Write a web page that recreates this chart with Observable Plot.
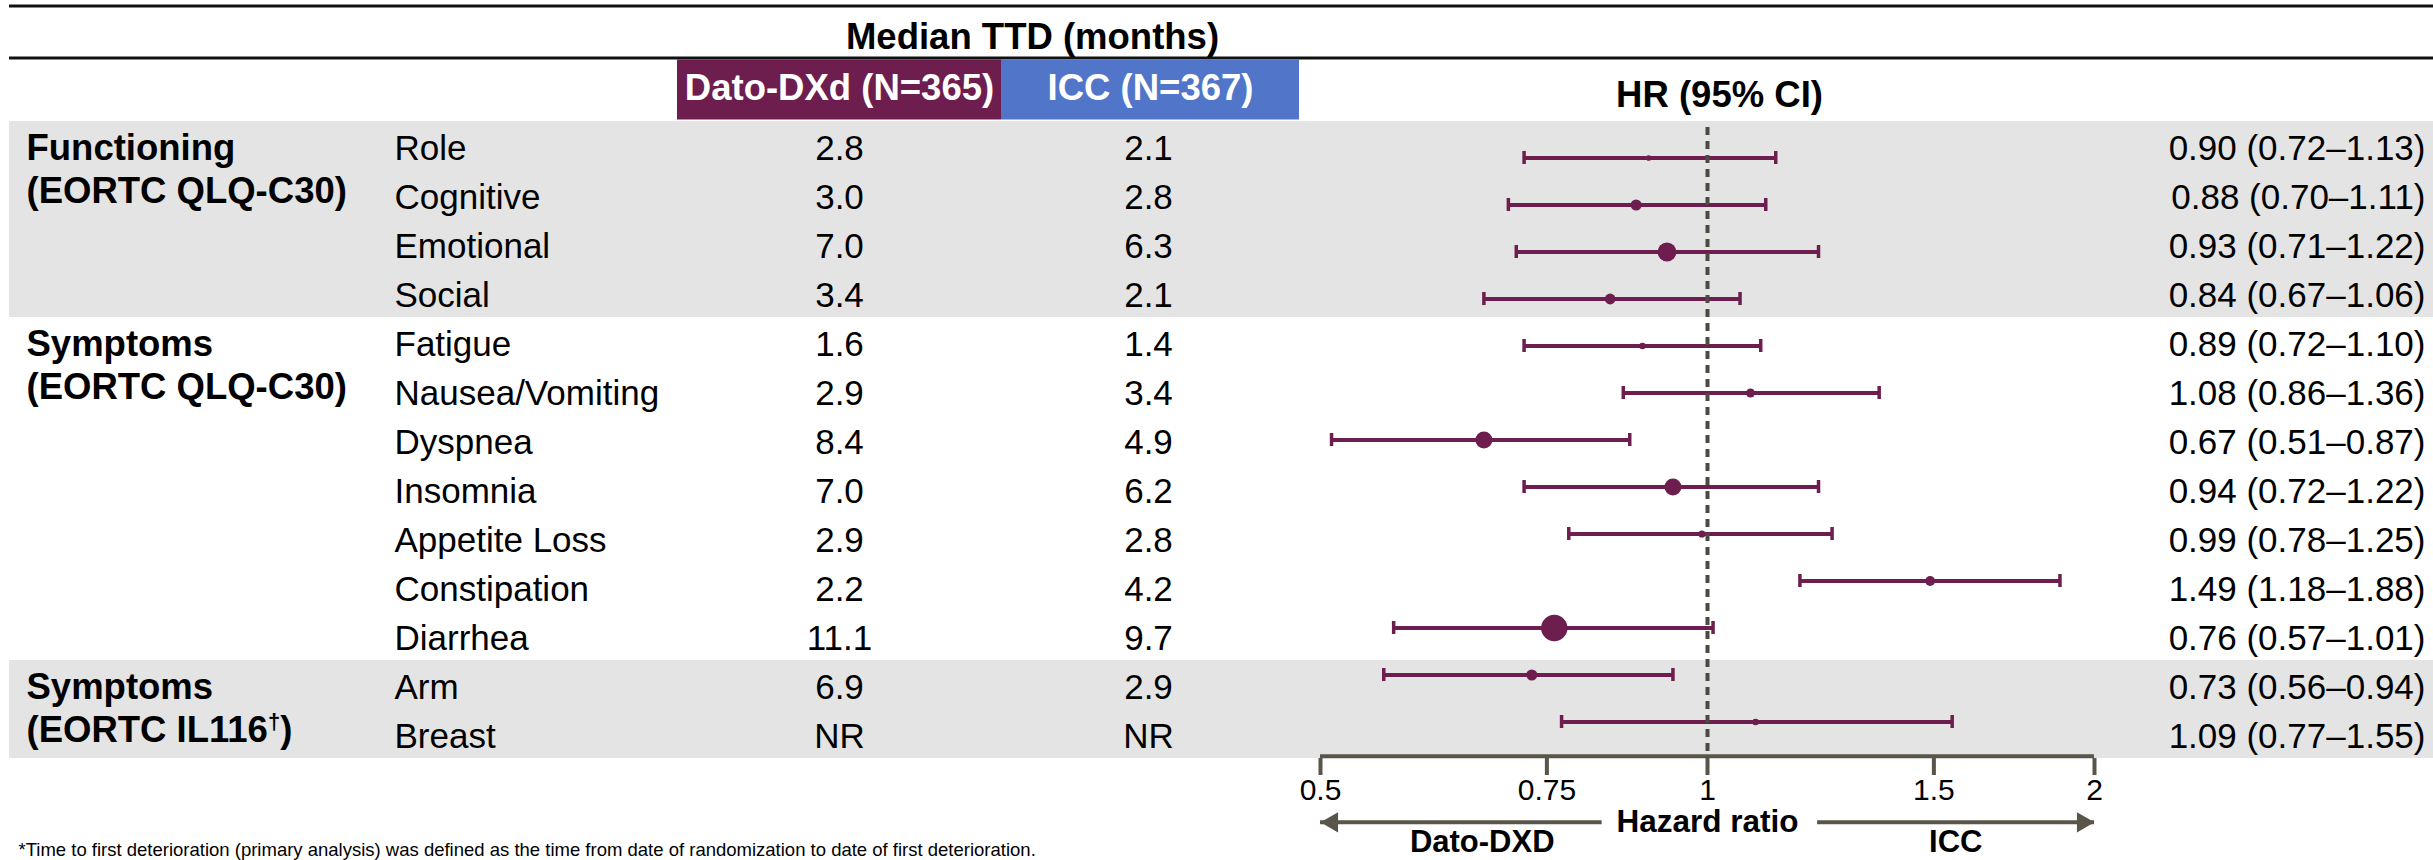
<!DOCTYPE html>
<html>
<head>
<meta charset="utf-8">
<script src="https://cdn.jsdelivr.net/npm/d3@7"></script>
<script src="https://cdn.jsdelivr.net/npm/@observablehq/plot@0.6"></script>
<style>
  html, body { margin: 0; padding: 0; background: #fff; overflow: hidden; }
  #chart { position: relative; width: 2433px; height: 860px; overflow: hidden; background: #fff;
           font-family: "Liberation Sans", Arial, sans-serif; }
  #chart svg { position: absolute; left: 0; top: 0; }
</style>
</head>
<body>
<div id="chart"></div>
<script>
// ---------------- DATA ----------------
const groupLabels = ["Functioning\n(EORTC QLQ-C30)", "Symptoms\n(EORTC QLQ-C30)", "Symptoms\n(EORTC IL116†)"];
const items = ["Role", "Cognitive", "Emotional", "Social", "Fatigue", "Nausea/Vomiting", "Dyspnea",
               "Insomnia", "Appetite Loss", "Constipation", "Diarrhea", "Arm", "Breast"];
const itemGroup = [0, 0, 0, 0, 1, 1, 1, 1, 1, 1, 1, 2, 2];
const datoMedian = ["2.8", "3.0", "7.0", "3.4", "1.6", "2.9", "8.4", "7.0", "2.9", "2.2", "11.1", "6.9", "NR"];
const iccMedian  = ["2.1", "2.8", "6.3", "2.1", "1.4", "3.4", "4.9", "6.2", "2.8", "4.2", "9.7", "2.9", "NR"];
const hrValue = [0.90, 0.88, 0.93, 0.84, 0.89, 1.08, 0.67, 0.94, 0.99, 1.49, 0.76, 0.73, 1.09];
const ciLow   = [0.72, 0.70, 0.71, 0.67, 0.72, 0.86, 0.51, 0.72, 0.78, 1.18, 0.57, 0.56, 0.77];
const ciHigh  = [1.13, 1.11, 1.22, 1.06, 1.10, 1.36, 0.87, 1.22, 1.25, 1.88, 1.01, 0.94, 1.55];
// relative marker weight (area of the point estimate marker)
const markerWeight = [8, 31, 88, 29, 11, 20, 72, 72, 13, 24, 174, 31, 11];

const tableTitle = "Median TTD (months)";
const armLabels = ["Dato-DXd (N=365)", "ICC (N=367)"];
const hrTitle = "HR (95% CI)";
const axisTicks = [0.5, 0.75, 1, 1.5, 2];
const axisTickLabels = ["0.5", "0.75", "1", "1.5", "2"];
const axisTitle = "Hazard ratio";
const directionLabels = ["Dato-DXD", "ICC"];
const footnote = "*Time to first deterioration (primary analysis) was defined as the time from date of randomization to date of first deterioration.";

// ---------------- STYLE / LAYOUT ----------------
const FONT = '"Liberation Sans", Arial, Helvetica, sans-serif';
const W = 2433, H = 860;
const PURPLE = "#6d1e4f", BLUE = "#5175c8", BAND = "#e4e4e4", AXIS = "#59554a", DASH = "#4d4a42";
const BOLD = 36.5, REG = 35;
const armColors = [PURPLE, BLUE];
const armSpans = [[677, 1001], [1001, 1299]];
const col = { bandLeft: 9, group: 26, item: 394, dato: 839, icc: 1148, hrText: 2425 };
const tableRows = { top: 122.5, step: 49.25 };
const forestRows = { first: 154.3, step: 47.45, cap: 13 };
const forestFrame = { left: 1320, right: W - 2094, top: 127, bottom: H - 758 };
// arrow directions below the axis, in hazard-ratio units
const directions = [
  { label: directionLabels[0], from: 0.828, to: 0.5, at: 0.668 },
  { label: directionLabels[1], from: 1.218, to: 2, at: 1.56 }
];

const rows = items.map((item, i) => ({
  item, group: itemGroup[i], dato: datoMedian[i], icc: iccMedian[i],
  hr: hrValue[i], lo: ciLow[i], hi: ciHigh[i], w: markerWeight[i]
}));
const groups = groupLabels.map((label, g) => ({ label, first: items[itemGroup.indexOf(g)] }));
const lastItem = items[items.length - 1];
const fmt = v => v.toFixed(2);

const chart = document.getElementById("chart");
const baseStyle = { fontFamily: FONT, background: "transparent", color: "#000", overflow: "visible" };

// ---------------- TABLE LAYER ----------------
const table = Plot.plot({
  width: W, height: H, margin: 0,
  x: { type: "identity", axis: null },
  y: { type: "band", domain: items, range: [tableRows.top, tableRows.top + items.length * tableRows.step],
       padding: 0, axis: null },
  style: baseStyle,
  marks: [
    Plot.barX(rows.filter(d => d.group % 2 === 0),
      { y: "item", x1: col.bandLeft, x2: W, fill: BAND, insetTop: -3, insetBottom: 3 }),
    Plot.text(groups, { y: "first", x: col.group, text: "label", textAnchor: "start", lineAnchor: "top",
      lineHeight: 1.18, fontWeight: "bold", fontSize: BOLD, dy: -20 }),
    Plot.text(rows, { y: "item", x: col.item, text: "item", textAnchor: "start", fontSize: REG }),
    Plot.text(rows, { y: "item", x: col.dato, text: "dato", fontSize: REG }),
    Plot.text(rows, { y: "item", x: col.icc, text: "icc", fontSize: REG }),
    Plot.text(rows, { y: "item", x: col.hrText, text: d => `${fmt(d.hr)} (${fmt(d.lo)}–${fmt(d.hi)})`,
      textAnchor: "end", fontSize: REG }),
    Plot.text([footnote], { frameAnchor: "bottom-left", dx: 18, dy: -5, textAnchor: "start",
      lineAnchor: "bottom", fontSize: 18.5 })
  ]
});
chart.appendChild(table);

// superscript dagger
table.querySelectorAll("tspan, text").forEach(el => {
  if (el.childElementCount === 0 && el.textContent.includes("†")) {
    const [before, after] = el.textContent.split("†");
    el.textContent = before;
    const ns = "http://www.w3.org/2000/svg";
    const sup = document.createElementNS(ns, "tspan");
    sup.setAttribute("dy", "-13"); sup.setAttribute("font-size", "22"); sup.textContent = "†";
    const rest = document.createElementNS(ns, "tspan");
    rest.setAttribute("dy", "13"); rest.textContent = after;
    el.appendChild(sup); el.appendChild(rest);
  }
});

// ---------------- HEADER LAYER ----------------
const arms = armLabels.map((label, i) => ({ label, color: armColors[i], x1: armSpans[i][0], x2: armSpans[i][1] }));
const header = Plot.plot({
  width: W, height: 125, margin: 0,
  x: { type: "identity", axis: null }, y: { type: "identity", axis: null }, color: { type: "identity" },
  style: baseStyle,
  marks: [
    Plot.ruleY([5.5, 57.5], { x1: col.bandLeft, x2: W, stroke: "#111", strokeWidth: 3 }),
    Plot.text([tableTitle], { x: 1032, y: 37, fontWeight: "bold", fontSize: BOLD }),
    Plot.rect(arms, { x1: "x1", x2: "x2", y1: 59.5, y2: 119.5, fill: "color" }),
    Plot.text(arms, { x: d => (d.x1 + d.x2) / 2, y: 88, text: "label", fill: "#fff", fontWeight: "bold", fontSize: BOLD }),
    Plot.text([hrTitle], { x: 1719, y: 95, fontWeight: "bold", fontSize: BOLD })
  ]
});
chart.appendChild(header);

// ---------------- FOREST LAYER ----------------
// band scale whose band centres sit on the CI rows and whose bandwidth is the cap height
const pInner = 1 - forestRows.cap / forestRows.step;
const yStart = forestRows.first - forestRows.step / 2;
const yRange = [yStart, yStart + items.length * forestRows.step];
const lastCentre = forestRows.first + (items.length - 1) * forestRows.step;
const axisDy = (H - forestFrame.bottom) - lastCentre;
const arrowDy = 824 - lastCentre;
const forest = Plot.plot({
  width: W, height: H,
  marginLeft: forestFrame.left, marginRight: forestFrame.right,
  marginTop: forestFrame.top, marginBottom: forestFrame.bottom,
  x: { type: "log", domain: [axisTicks[0], axisTicks[axisTicks.length - 1]], label: null },
  y: { type: "band", domain: items, range: yRange, paddingInner: pInner, paddingOuter: pInner / 2,
       align: 0.5, axis: null },
  r: { type: "sqrt", domain: [0, d3.max(markerWeight)], range: [0, 13.2] },
  style: baseStyle,
  marks: [
    // axis baseline
    Plot.ruleY([lastItem], { x1: axisTicks[0], x2: axisTicks[axisTicks.length - 1], dy: axisDy,
      stroke: AXIS, strokeWidth: 4 }),
    Plot.axisX({ ticks: axisTicks, tickFormat: d => axisTickLabels[axisTicks.indexOf(d)],
      tickSize: 17, tickPadding: 3, fontSize: 30, stroke: AXIS, strokeWidth: 4, fill: "#000", label: null }),
    // confidence intervals
    Plot.ruleY(rows, { y: "item", x1: "lo", x2: "hi", stroke: PURPLE, strokeWidth: 4 }),
    Plot.tickX(rows, { x: "lo", y: "item", stroke: PURPLE, strokeWidth: 3.5 }),
    Plot.tickX(rows, { x: "hi", y: "item", stroke: PURPLE, strokeWidth: 3.5 }),
    // reference line at HR = 1
    Plot.ruleX([1], { stroke: DASH, strokeWidth: 4, strokeDasharray: "8,6" }),
    // point estimates
    Plot.dot(rows, { x: "hr", y: "item", r: "w", fill: PURPLE, stroke: null }),
    // direction arrows
    Plot.ruleY(directions, { y: () => lastItem, x1: "from", x2: "to", dy: arrowDy, stroke: AXIS, strokeWidth: 4 }),
    Plot.dot(directions.slice(0, 1), { x: "to", y: () => lastItem, dy: arrowDy, dx: 11.7, symbol: "triangle",
      rotate: -90, r: 7.5, fill: AXIS, stroke: null }),
    Plot.dot(directions.slice(1), { x: "to", y: () => lastItem, dy: arrowDy, dx: -11.7, symbol: "triangle",
      rotate: 90, r: 7.5, fill: AXIS, stroke: null }),
    Plot.text([axisTitle], { x: 1, frameAnchor: "bottom", lineAnchor: "middle", dy: 63,
      fontWeight: "bold", fontSize: 31.5 }),
    Plot.text(directions, { x: "at", text: "label", frameAnchor: "bottom", lineAnchor: "middle", dy: 84,
      fontWeight: "bold", fontSize: 31 })
  ]
});
chart.appendChild(forest);
</script>
</body>
</html>
